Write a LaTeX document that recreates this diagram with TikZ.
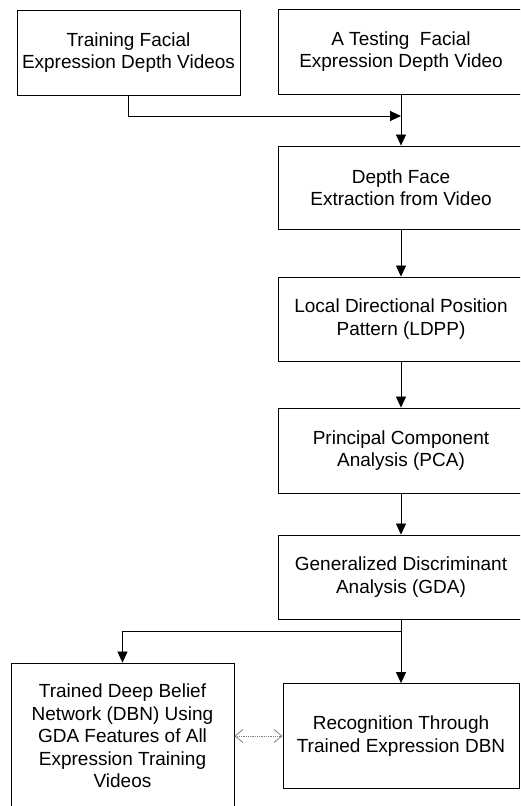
\documentclass[tikz,border=0pt]{standalone}
\usepackage{fontspec}
\setmainfont{Liberation Sans}
\usetikzlibrary{arrows.meta,positioning}
\tikzset{
  box/.style={draw,line width=0.8pt,align=center,inner sep=2pt,font=\fontsize{19}{22.5}\selectfont},
  colbox/.style={box,minimum width=246pt,minimum height=84pt},
  flow/.style={line width=0.8pt,-{Triangle[length=11pt,width=10pt]}},
  link/.style={gray,densely dotted,line width=0.8pt,{Straight Barb[length=8pt,width=13pt]}-{Straight Barb[length=8pt,width=13pt]}},
}

\begin{document}
\begin{tikzpicture}[x=1pt,y=1pt]
  \useasboundingbox (0,0) rectangle (520,806);
  \clip (0,0) rectangle (520,806);
  % inputs
  \node[box,minimum width=223pt,minimum height=85pt] (train) at (128.5,753.5) {Training Facial\\Expression Depth Videos};
  \node[colbox,minimum height=85pt] (test) at (401,754.5) {A Testing\ \ Facial\\Expression Depth Video};
  % main column
  \node[colbox,minimum height=83pt] (depth) at (401,618.5) {Depth Face\\Extraction from Video};
  \node[colbox] (ldpp) at (401,487) {Local Directional Position\\Pattern (LDPP)};
  \node[colbox,minimum height=85pt] (pca) at (401,355.5) {Principal Component\\Analysis (PCA)};
  \node[colbox] (gda) at (401,229) {Generalized Discriminant\\Analysis (GDA)};
  % outputs
  \node[box,minimum width=223pt,minimum height=146pt] (dbn) at (122.5,70) {Trained Deep Belief\\Network (DBN) Using\\GDA Features of All\\Expression Training\\Videos};
  \node[box,minimum width=236pt,minimum height=105pt] (recog) at (401,70) {Recognition Through\\Trained Expression DBN};
  % connectors
  \coordinate (merge) at (401,690);
  \coordinate (split) at (401,175);
  \draw[flow] (train.south) |- (merge);
  \draw[flow] (test.south) -- (depth.north);
  \draw[flow] (depth) -- (ldpp);
  \draw[flow] (ldpp) -- (pca);
  \draw[flow] (pca) -- (gda);
  \draw[flow] (gda.south) -- (split) -| (dbn.north);
  \draw[flow] (gda.south) -- (recog.north);
  \draw[link] (dbn.east) -- (recog.west);
\end{tikzpicture}
\end{document}
